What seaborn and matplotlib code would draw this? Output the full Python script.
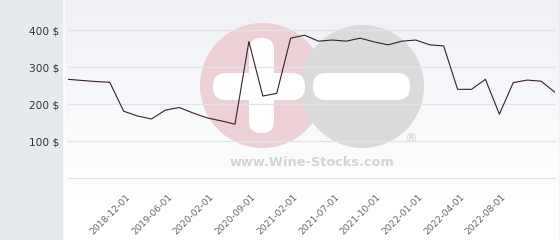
import numpy as np
import pandas as pd
import matplotlib
matplotlib.use("Agg")
import matplotlib.pyplot as plt
from matplotlib.patches import Circle, FancyBboxPatch
from matplotlib.colors import LinearSegmentedColormap
import matplotlib.transforms as mtransforms
import seaborn as sns

# ---- data ----
prices = [267, 264, 261, 259, 181, 168, 160, 184, 191, 176, 163, 155, 146, 369,
          222, 229, 378, 386, 370, 373, 370, 378, 368, 360, 370, 373, 360, 357,
          240, 240, 267, 173, 258, 265, 262, 232]
date_labels = ["2018-12-01", "2019-06-01", "2020-02-01", "2020-09-01", "2021-02-01",
               "2021-07-01", "2021-10-01", "2022-01-01", "2022-04-01", "2022-08-01"]
y_ticks = [0, 100, 200, 300, 400]
y_labels = ["", "100 $", "200 $", "300 $", "400 $"]

df = pd.DataFrame({"idx": np.arange(len(prices)), "price": prices})

W, H = 560, 240
fig = plt.figure(figsize=(W / 100, H / 100), dpi=100, facecolor="#e6eaed")

# ---- background / watermark layer (pixel coords) ----
bg = fig.add_axes([0, 0, 1, 1], zorder=0)
bg.set_xlim(0, W)
bg.set_ylim(H, 0)
bg.axis("off")
cmap = LinearSegmentedColormap.from_list("g", ["#eff1f6", "#ffffff"])
grad = np.linspace(0, 1, 200).reshape(-1, 1)
grad = np.clip(grad * 1.2, 0, 1)
bg.imshow(grad, cmap=cmap, extent=(64, W, H, 0), aspect="auto", zorder=0)
bg.plot([63.5, 63.5], [0, H], color="white", lw=1.2, zorder=1)
bg.plot([559.5, 559.5], [0, H], color="#dadada", lw=1, zorder=1)

# watermark
bg.add_patch(Circle((262.5, 85.5), 62.5, color="#edd0d6", zorder=2, lw=0))
bg.add_patch(Circle((362.5, 86.5), 61.5, color="#dadada", zorder=3, lw=0))
bg.add_patch(FancyBboxPatch((249, 38), 25, 95, boxstyle="round,pad=0,rounding_size=12",
                            color="white", zorder=4, lw=0))
bg.add_patch(FancyBboxPatch((213, 73), 92, 27, boxstyle="round,pad=0,rounding_size=13",
                            color="white", zorder=4, lw=0))
bg.add_patch(FancyBboxPatch((313, 73), 97, 27, boxstyle="round,pad=0,rounding_size=13",
                            color="white", zorder=4, lw=0))
bg.text(311.5, 162, "www.Wine-Stocks.com", ha="center", va="center", fontsize=9.3,
        fontweight="bold", color="#d4d4d4", zorder=4)
bg.text(411, 139, "®", ha="center", va="center", fontsize=9, color="#d0d0d0", zorder=4)

# ---- main axes ----
x0, x1 = 68, 555
ybot = 178.3
ax = fig.add_axes([x0 / W, (H - ybot) / H, (x1 - x0) / W, ybot / H], zorder=2)
ax.set_facecolor("none")
sns.lineplot(data=df, x="idx", y="price", ax=ax, color="#3a1f2b", linewidth=0.8)
ax.set_xlim(0, len(prices) - 1)
ax.set_ylim(0, ybot / 0.3707)
for sp in ax.spines.values():
    sp.set_visible(False)
ax.set_yticks(y_ticks)
ax.set_yticklabels(y_labels)
ax.grid(False)
for t in y_ticks:
    ax.axhline(t, color="#e2e3e7", lw=0.9, zorder=0.5, clip_on=False)
ax.tick_params(axis="y", length=0, pad=6.5, labelsize=7.6, labelcolor="#333333")

xt = [4 + 3 * k for k in range(len(date_labels))]
ax.set_xticks(xt)
ax.set_xticklabels(date_labels, rotation=45, ha="right", va="center",
                   rotation_mode="anchor", fontsize=6.6, color="#666666")
ax.tick_params(axis="x", length=0, pad=12.5)
off = mtransforms.ScaledTranslation(5.3 / 100, 0, fig.dpi_scale_trans)
for lab in ax.get_xticklabels():
    lab.set_transform(lab.get_transform() + off)
ax.set_xlabel("")
ax.set_ylabel("")

fig.savefig("out.png", dpi=100, facecolor=fig.get_facecolor())
